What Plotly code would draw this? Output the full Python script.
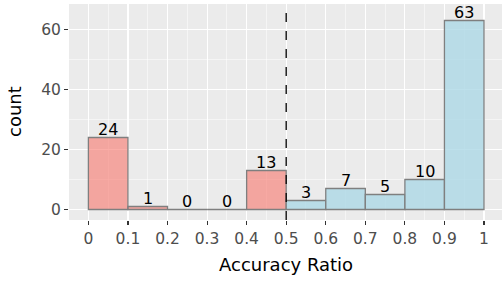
import plotly.graph_objects as go

bin_centers = [0.05, 0.15, 0.25, 0.35, 0.45, 0.55, 0.65, 0.75, 0.85, 0.95]
counts = [24, 1, 0, 0, 13, 3, 7, 5, 10, 63]
groups = ["low", "low", "low", "low", "low", "high", "high", "high", "high", "high"]
x_ticks = [0, 0.1, 0.2, 0.3, 0.4, 0.5, 0.6, 0.7, 0.8, 0.9, 1.0]
x_tick_labels = ["0", "0.1", "0.2", "0.3", "0.4", "0.5", "0.6", "0.7", "0.8", "0.9", "1"]
y_ticks = [0, 20, 40, 60]
threshold = 0.5

color_map = {"low": "rgba(248,118,109,0.6)", "high": "rgba(173,216,230,0.8)"}
font_family = "DejaVu Sans, Verdana, sans-serif"

fig = go.Figure()
fig.add_trace(go.Bar(
    x=bin_centers, y=counts, width=0.1,
    marker=dict(color=[color_map[g] for g in groups],
                line=dict(color="#7F7F7F", width=1.3)),
    showlegend=False, hoverinfo="skip",
))
for xc, c in zip(bin_centers, counts):
    fig.add_annotation(x=xc, y=c, text=str(c), showarrow=False,
                       xanchor="center", yanchor="bottom", yshift=-3,
                       font=dict(family=font_family, size=16, color="black"))
fig.add_shape(type="line", x0=threshold, x1=threshold, y0=0, y1=1,
              xref="x", yref="paper",
              line=dict(color="black", width=1.3, dash="dash"))

fig.add_annotation(text="Accuracy Ratio", xref="paper", yref="paper",
                   x=0.5, y=0, yshift=-44, xanchor="center", yanchor="middle",
                   showarrow=False, font=dict(size=18, color="black", family=font_family))
fig.add_annotation(text="count", xref="paper", yref="paper",
                   x=0, y=0.5, xshift=-55, xanchor="center", yanchor="middle",
                   textangle=-90, showarrow=False,
                   font=dict(size=18, color="black", family=font_family))

fig.update_layout(
    width=502, height=282,
    margin=dict(l=69, r=0, t=4, b=62, autoexpand=False),
    paper_bgcolor="white", plot_bgcolor="#EBEBEB",
    font=dict(family=font_family),
    bargap=0,
)
fig.update_xaxes(
    range=[-0.049, 1.0455], automargin=False,
    tickvals=x_ticks, ticktext=x_tick_labels,
    tickfont=dict(size=15.5, color="#4D4D4D"),
    ticks="outside", ticklen=4, tickcolor="#333333", tickwidth=1.1,
    showgrid=True, gridcolor="white", gridwidth=1.1,
    minor=dict(dtick=0.05, tick0=0.05, showgrid=True, gridcolor="white", gridwidth=0.5, ticks=""),
    zeroline=False, showline=False,
)
fig.update_yaxes(
    range=[-3.5, 68.5], automargin=False,
    tickvals=y_ticks,
    tickfont=dict(size=15.5, color="#4D4D4D"),
    ticks="outside", ticklen=4, tickcolor="#333333", tickwidth=1.1,
    showgrid=True, gridcolor="white", gridwidth=1.1,
    minor=dict(dtick=10, tick0=10, showgrid=True, gridcolor="white", gridwidth=0.5, ticks=""),
    zeroline=False, showline=False,
)

fig.write_html("out.html",
               config={"displayModeBar": False, "staticPlot": True},
               post_script="document.body.style.margin='0px';document.body.style.overflow='hidden';")
